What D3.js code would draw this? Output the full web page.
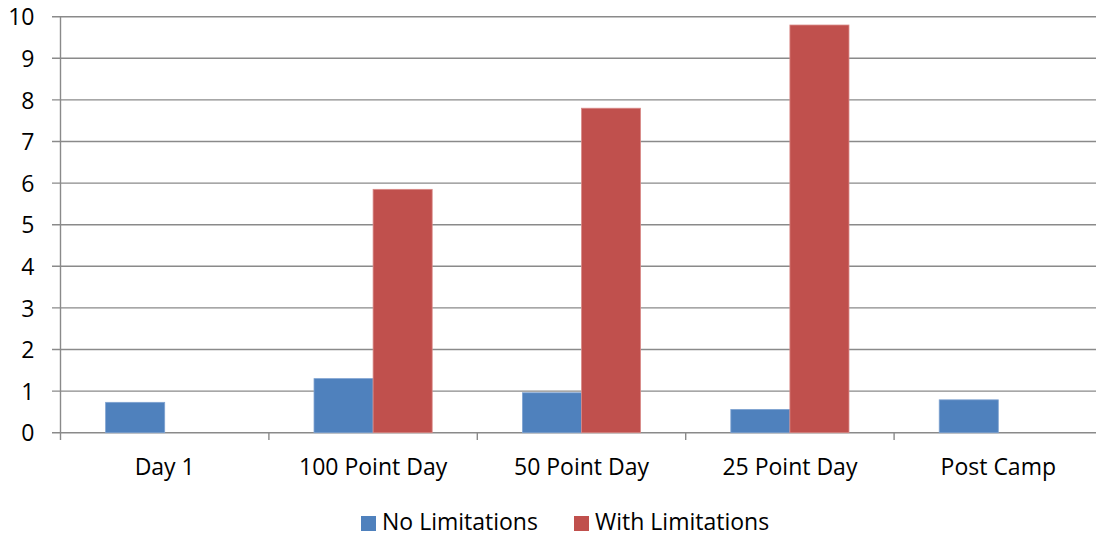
<!DOCTYPE html>
<html><head><meta charset="utf-8">
<script src="https://cdn.jsdelivr.net/npm/d3@7"></script>
<style>body{margin:0;background:#fff}svg{display:block}text{font-family:"Open Sans",sans-serif;fill:#000}</style>
</head><body><svg id="c" width="1096" height="537"></svg>
<script>
const categories = ["Day 1","100 Point Day","50 Point Day","25 Point Day","Post Camp"];
const seriesNames = ["No Limitations","With Limitations"];
const noLimitations = [0.73,1.30,0.96,0.56,0.79];
const withLimitations = [0,5.85,7.8,9.8,0];
const yTicks = [0,1,2,3,4,5,6,7,8,9,10];
const colors = ["#4F81BD","#C0504D"];

const svg = d3.select("#c");
const mLeft = 60.5, mRight = 1102.5, mTop = 16.7, mBottom = 432.7;
const fs = "23px";
const y = d3.scaleLinear().domain([0,10]).range([mBottom, mTop]);
const x0 = d3.scaleBand().domain(categories).range([mLeft,mRight]).paddingInner(0.433).paddingOuter(0.2165);
const x1 = d3.scaleBand().domain(seriesNames).range([0,x0.bandwidth()]);

// gridlines
svg.append("g").selectAll("line").data(yTicks).join("line")
  .attr("x1",52).attr("x2",1096).attr("y1",d=>y(d)).attr("y2",d=>y(d))
  .attr("stroke","#8a8a8a").attr("stroke-width",1.4);

// bars
const data = categories.map((c,i)=>({c, vals:[noLimitations[i],withLimitations[i]]}));
const g = svg.append("g").selectAll("g").data(data).join("g").attr("transform",d=>`translate(${x0(d.c)},0)`);
g.selectAll("rect").data(d=>d.vals.map((v,j)=>({v,s:seriesNames[j],j})).filter(d=>d.v>0)).join("rect")
  .attr("x",d=>x1(d.s)).attr("width",x1.bandwidth())
  .attr("y",d=>y(d.v)).attr("height",d=>mBottom-y(d.v))
  .attr("fill",d=>colors[d.j]).attr("stroke",d=>d.j? "#d98a88":"#7fa3d1").attr("stroke-width",0.8);

// y axis
const yAxis = svg.append("g").attr("transform",`translate(${mLeft},0)`)
  .call(d3.axisLeft(y).tickValues(yTicks).tickSize(0).tickPadding(0).tickFormat(d3.format("d")));
yAxis.select(".domain").remove();
yAxis.append("line").attr("x1",0).attr("x2",0).attr("y1",mTop).attr("y2",440).attr("stroke","#8a8a8a").attr("stroke-width",1.4);
yAxis.selectAll(".tick text").attr("x",-26).attr("dy","0.36em").style("font-size",fs).style("font-family","'Open Sans',sans-serif").attr("fill","#000");

// x axis
const xAxis = svg.append("g").attr("transform",`translate(0,${mBottom})`)
  .call(d3.axisBottom(x0).tickSize(0).tickPadding(0));
xAxis.select(".domain").remove();
xAxis.selectAll(".tick text").attr("y",42).attr("dy","0").style("font-size",fs).style("font-family","'Open Sans',sans-serif").attr("fill","#000");
const bounds = d3.range(1,categories.length).map(i=>mLeft + i*x0.step());
svg.append("g").selectAll("line").data(bounds).join("line")
  .attr("x1",d=>d).attr("x2",d=>d).attr("y1",mBottom).attr("y2",440)
  .attr("stroke","#8a8a8a").attr("stroke-width",1.4);

// legend
const legend = svg.append("g");
const lx = [361,574];
seriesNames.forEach((s,i)=>{
  legend.append("rect").attr("x",lx[i]).attr("y",516).attr("width",15).attr("height",15).attr("fill",colors[i]);
  legend.append("text").attr("x",lx[i]+21).attr("y",530).style("font-size",fs).text(s);
});
</script></body></html>
